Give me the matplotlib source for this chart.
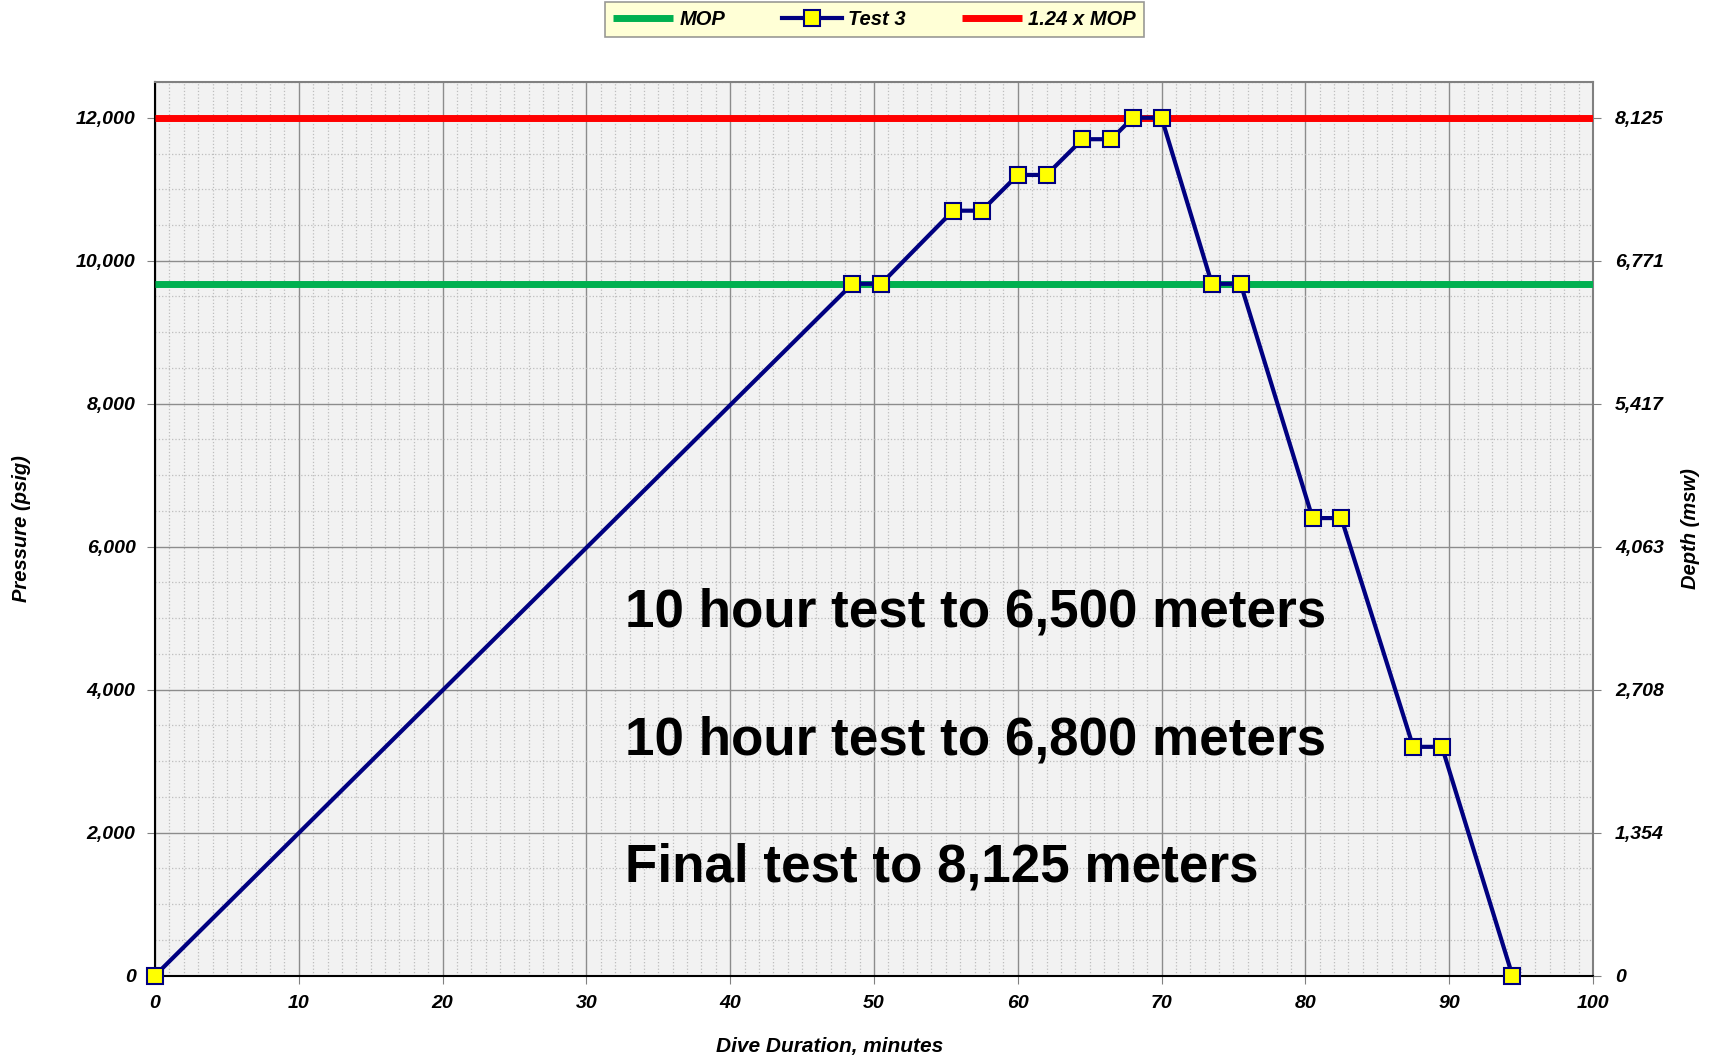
import numpy as np
import matplotlib
matplotlib.use("Agg")
import matplotlib.pyplot as plt
from matplotlib.ticker import MultipleLocator, FuncFormatter

# Test 3 data (minutes, psig)
minutes = [0, 48.5, 50.5, 55.5, 57.5, 60, 62, 64.5, 66.5, 68, 70,
           73.5, 75.5, 80.5, 82.5, 87.5, 89.5, 94.4]
pressure = [0, 9677, 9677, 10700, 10700, 11200, 11200, 11700, 11700,
            12000, 12000, 9677, 9677, 6400, 6400, 3200, 3200, 0]

mop = 9677
mop_factor = 1.24

y_ticks = [0, 2000, 4000, 6000, 8000, 10000, 12000]
depth_labels = ["0", "1,354", "2,708", "4,063", "5,417", "6,771", "8,125"]

notes = ["10 hour test to 6,500 meters",
         "10 hour test to 6,800 meters",
         "Final test to 8,125 meters"]
note_y = [5080, 3290, 1510]

plt.rcParams['font.family'] = ['Liberation Sans', 'DejaVu Sans']

fig = plt.figure(figsize=(17.11, 10.61), dpi=100)
ax = fig.add_axes([0.0906, 0.0805, 0.8404, 0.8422])
ax.set_facecolor("#f2f2f2")

ax.set_xlim(0, 100)
ax.set_ylim(0, 12500)
ax.xaxis.set_major_locator(MultipleLocator(10))
ax.xaxis.set_minor_locator(MultipleLocator(1))
ax.set_yticks(y_ticks)
ax.yaxis.set_minor_locator(MultipleLocator(500))
ax.yaxis.set_major_formatter(FuncFormatter(lambda v, p: f"{int(v):,}"))

ax.grid(which="major", color="#8c8c8c", linewidth=1.0, linestyle="-")
ax.grid(which="minor", color="#bdbdbd", linewidth=0.9, linestyle=":")
ax.set_axisbelow(True)

l1, = ax.plot([0, 100], [mop, mop], color="#00b050", linewidth=5, label="MOP",
              solid_capstyle="butt", zorder=3)
l2, = ax.plot(minutes, pressure, color="#000080", linewidth=3, marker="s",
              markersize=11, markerfacecolor="#ffff00", markeredgecolor="#000080",
              markeredgewidth=1.5, label="Test 3", zorder=5, clip_on=False)
l3, = ax.plot([0, 100], [mop * mop_factor, mop * mop_factor], color="#ff0000",
              linewidth=5, label="1.24 x MOP", solid_capstyle="butt", zorder=4)

for txt, yy in zip(notes, note_y):
    ax.text(32.7, yy, txt, fontsize=38.2, fontweight="bold", va="center",
            ha="left", color="black", zorder=6)

tick_font = dict(fontsize=14, fontweight="bold", fontstyle="italic")
for lab in ax.get_xticklabels() + ax.get_yticklabels():
    lab.set_fontweight("bold")
    lab.set_fontstyle("italic")
    lab.set_fontsize(14)
ax.tick_params(which="major", length=6, color="#808080", pad=8)
ax.tick_params(which="minor", length=0)
for s in ax.spines.values():
    s.set_color("#808080")
    s.set_linewidth(1.5)
ax.spines["bottom"].set_color("black")
ax.spines["left"].set_color("black")

ax.set_xlabel("Dive Duration, minutes", fontsize=15, fontweight="bold",
              fontstyle="italic")
ax.xaxis.set_label_coords(0.469, -0.069)
ax.set_ylabel("Pressure (psig)", fontsize=14.5, fontweight="bold",
              fontstyle="italic", labelpad=32)

ax2 = ax.twinx()
ax2.set_ylim(ax.get_ylim())
ax2.set_yticks(y_ticks)
ax2.set_yticklabels(depth_labels, **tick_font)
ax2.tick_params(length=6, color="#808080", pad=10)
for s in ax2.spines.values():
    s.set_visible(False)
ax2.set_ylabel("Depth (msw)", fontsize=14.5, fontweight="bold",
               fontstyle="italic", labelpad=12)

leg = fig.legend(handles=[l1, l2, l3], loc="upper center",
                 bbox_to_anchor=(0.5111, 0.998), ncol=3, frameon=True,
                 fancybox=False, prop=dict(size=14.5, weight="bold", style="italic"),
                 handlelength=3, columnspacing=2.8, borderpad=0.4,
                 handletextpad=0.3, borderaxespad=0)
leg.get_frame().set_facecolor("#ffffcc")
leg.get_frame().set_edgecolor("#808080")
leg.get_frame().set_linewidth(1.2)

fig.savefig("out.png", dpi=100)
